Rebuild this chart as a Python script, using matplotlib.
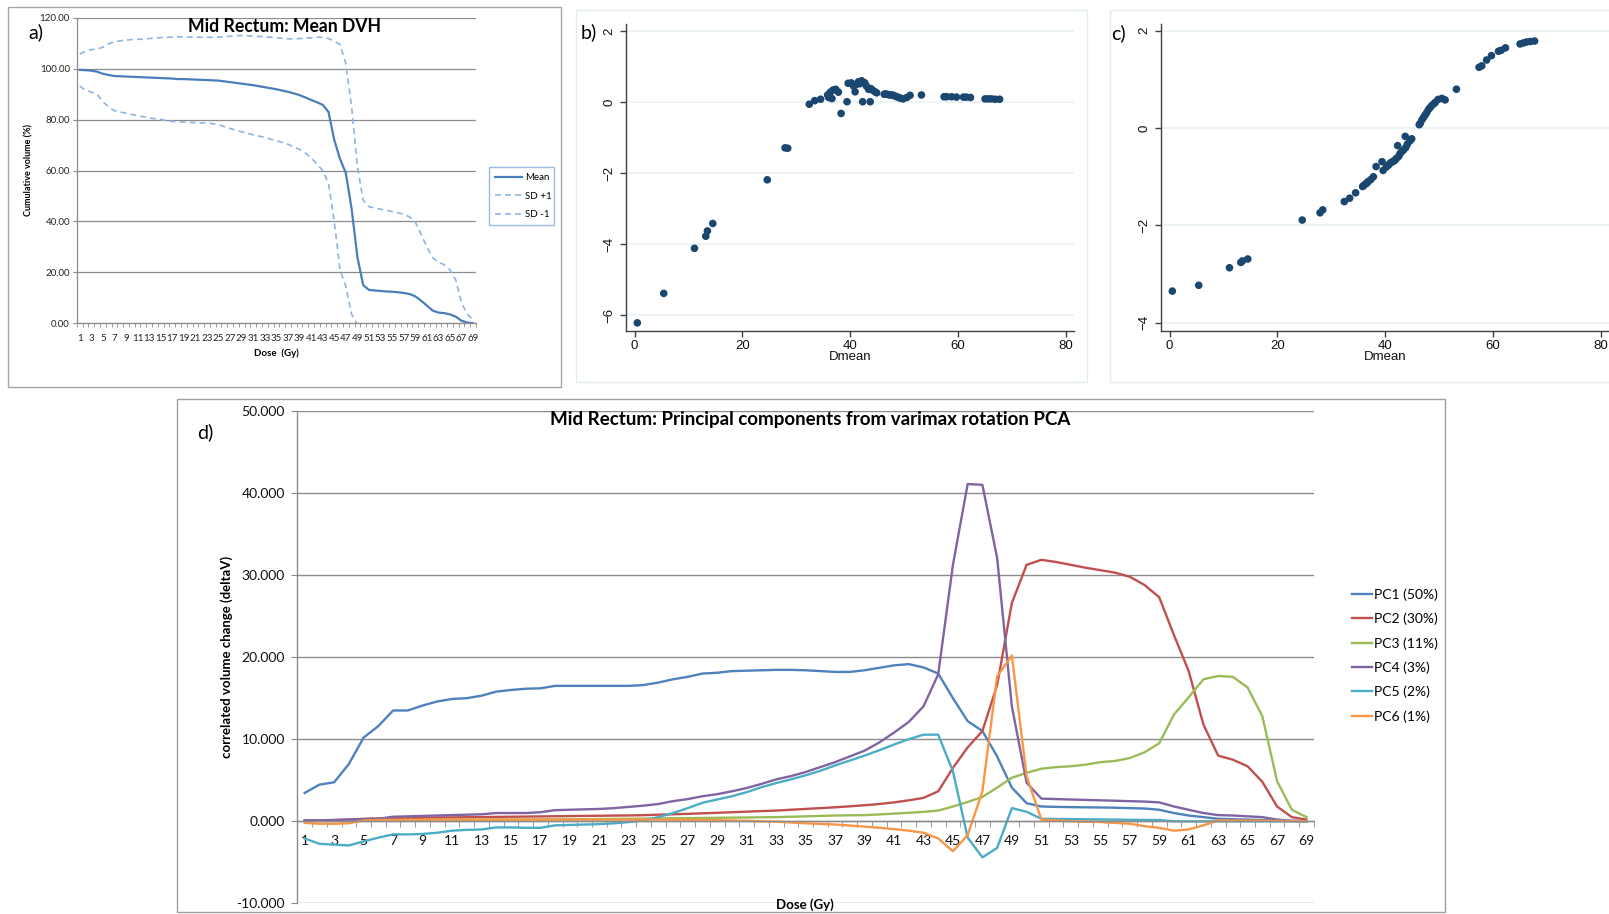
import matplotlib
matplotlib.use("Agg")
import matplotlib.pyplot as plt
import numpy as np
from matplotlib.patches import Rectangle

# ---------------------------------------------------------------- data
dose = list(range(1, 70))

dvh_mean = [99.5, 99.4, 99.2, 98.8, 98.0, 97.5, 97.1, 97.0, 96.9, 96.8,
            96.7, 96.6, 96.5, 96.4, 96.3, 96.2, 96.1, 95.9, 95.9, 95.8,
            95.7, 95.6, 95.5, 95.4, 95.3, 95.0, 94.7, 94.4, 94.1, 93.8,
            93.5, 93.1, 92.7, 92.3, 91.9, 91.4, 90.9, 90.3, 89.6, 88.7,
            87.7, 86.8, 85.8, 83.0, 72.0, 64.5, 59.0, 45.0, 26.0, 15.0,
            13.1, 12.9, 12.7, 12.5, 12.4, 12.2, 11.9, 11.5, 10.6, 8.9,
            7.0, 5.0, 4.2, 4.0, 3.5, 2.6, 1.0, 0.3, 0.0]
dvh_sd_plus = [105.7, 106.8, 107.5, 107.6, 108.4, 109.7, 110.6, 110.9, 111.2, 111.4,
               111.5, 111.6, 111.8, 112.0, 112.2, 112.3, 112.4, 112.5, 112.5, 112.4,
               112.4, 112.3, 112.3, 112.3, 112.4, 112.6, 112.7, 112.9, 113.0, 112.9,
               112.8, 112.6, 112.5, 112.3, 112.1, 111.9, 111.7, 111.7, 111.8, 112.0,
               112.1, 112.3, 112.3, 111.8, 110.8, 109.5, 102.0, 85.0, 61.5, 48.4,
               45.8, 45.3, 44.8, 44.3, 43.9, 43.4, 42.8, 41.8, 39.8, 35.0,
               30.0, 25.8, 24.0, 23.0, 21.0, 17.0, 8.0, 3.6, 1.2]
dvh_sd_minus = [93.2, 91.5, 90.8, 90.0, 87.0, 85.0, 83.5, 83.0, 82.5, 82.0,
                81.5, 81.1, 80.7, 80.3, 80.0, 79.6, 79.3, 79.1, 79.0, 78.9,
                78.8, 78.7, 78.7, 78.4, 78.0, 77.2, 76.5, 75.8, 75.2, 74.6,
                74.0, 73.5, 73.0, 72.3, 71.7, 71.0, 70.3, 69.3, 68.3, 66.8,
                65.0, 62.5, 60.0, 55.0, 40.0, 21.0, 14.5, 3.5, -0.5, np.nan,
                np.nan, np.nan, np.nan, np.nan, np.nan, np.nan, np.nan, np.nan, np.nan, np.nan,
                np.nan, np.nan, np.nan, np.nan, np.nan, np.nan, np.nan, np.nan, np.nan]

# per-patient mean dose and the two component scores
dmean = [0.5, 5.4, 11.1, 13.2, 13.5, 14.5, 24.6, 27.9, 28.4, 32.4,
         33.4, 34.5, 35.8, 36.0, 36.3, 36.6, 36.8, 37.3, 37.8, 38.3,
         39.4, 39.6, 40.2, 40.6, 40.9, 41.2, 41.5, 41.8, 42.1, 42.3,
         42.5, 42.7, 43.0, 43.4, 43.7, 43.8, 44.1, 44.6, 44.9, 46.3,
         46.5, 46.8, 47.1, 47.4, 47.7, 48.0, 48.3, 48.6, 49.0, 49.3,
         49.8, 50.5, 51.1, 53.2, 57.4, 57.9, 58.8, 59.7, 61.0, 61.5,
         62.3, 65.0, 65.6, 66.2, 66.9, 67.7]
score_b = [-6.22, -5.39, -4.12, -3.78, -3.63, -3.42, -2.19, -1.29, -1.30, -0.06,
           0.04, 0.08, 0.20, 0.13, 0.28, 0.10, 0.34, 0.36, 0.28, -0.32,
           0.01, 0.53, 0.54, 0.45, 0.29, 0.50, 0.57, 0.52, 0.60, 0.01,
           0.55, 0.54, 0.45, 0.36, 0.01, 0.38, 0.34, 0.29, 0.26, 0.22,
           0.23, 0.22, 0.21, 0.20, 0.20, 0.19, 0.17, 0.15, 0.13, 0.11,
           0.09, 0.13, 0.19, 0.20, 0.15, 0.15, 0.15, 0.14, 0.14, 0.14,
           0.13, 0.09, 0.09, 0.09, 0.08, 0.08]
score_c = [-3.35, -3.23, -2.87, -2.76, -2.73, -2.69, -1.89, -1.74, -1.68, -1.51,
           -1.44, -1.33, -1.20, -1.18, -1.15, -1.13, -1.10, -1.06, -1.00, -0.79,
           -0.69, -0.87, -0.80, -0.76, -0.72, -0.70, -0.68, -0.66, -0.62, -0.36,
           -0.58, -0.53, -0.49, -0.45, -0.17, -0.40, -0.33, -0.26, -0.22, 0.07,
           0.10, 0.17, 0.22, 0.27, 0.32, 0.38, 0.42, 0.46, 0.50, 0.53,
           0.59, 0.61, 0.58, 0.80, 1.25, 1.28, 1.40, 1.49, 1.58, 1.60,
           1.65, 1.73, 1.75, 1.77, 1.78, 1.79]

pc_labels = ["PC1 (50%)", "PC2 (30%)", "PC3 (11%)", "PC4 (3%)", "PC5 (2%)", "PC6 (1%)"]
pc1 = [3.45, 4.46, 4.75, 6.98, 10.2, 11.6, 13.5, 13.5, 14.1, 14.6,
       14.9, 15.0, 15.3, 15.8, 16.0, 16.15, 16.2, 16.5, 16.5, 16.5,
       16.5, 16.5, 16.5, 16.6, 16.9, 17.3, 17.6, 18.0, 18.1, 18.3,
       18.35, 18.4, 18.45, 18.45, 18.4, 18.3, 18.2, 18.2, 18.4, 18.7,
       19.0, 19.15, 18.75, 18.0, 15.0, 12.2, 11.0, 7.9, 4.1, 2.2,
       1.8, 1.75, 1.72, 1.7, 1.68, 1.65, 1.6, 1.55, 1.4, 1.0,
       0.7, 0.5, 0.3, 0.25, 0.2, 0.15, 0.1, 0.05, 0.0]
pc2 = [0.1, 0.12, 0.15, 0.2, 0.3, 0.33, 0.36, 0.4, 0.42, 0.45,
       0.47, 0.49, 0.51, 0.53, 0.55, 0.57, 0.59, 0.61, 0.63, 0.65,
       0.67, 0.69, 0.71, 0.74, 0.8, 0.85, 0.9, 0.97, 1.03, 1.1,
       1.17, 1.24, 1.3, 1.4, 1.5, 1.6, 1.7, 1.82, 1.95, 2.1,
       2.3, 2.55, 2.85, 3.65, 6.5, 9.0, 11.0, 16.6, 26.6, 31.25,
       31.86, 31.6, 31.25, 30.9, 30.6, 30.3, 29.8, 28.8, 27.3, 22.7,
       18.3, 11.8, 8.0, 7.5, 6.7, 4.8, 1.8, 0.5, 0.2]
pc3 = [0.05, 0.06, 0.07, 0.08, 0.1, 0.11, 0.12, 0.13, 0.14, 0.15,
       0.16, 0.17, 0.18, 0.19, 0.2, 0.21, 0.22, 0.23, 0.24, 0.25,
       0.27, 0.28, 0.3, 0.32, 0.34, 0.36, 0.38, 0.4, 0.42, 0.44,
       0.46, 0.48, 0.5, 0.55, 0.6, 0.65, 0.7, 0.72, 0.75, 0.83,
       0.93, 1.03, 1.14, 1.3, 1.8, 2.35, 2.96, 4.1, 5.3, 5.9,
       6.4, 6.6, 6.7, 6.9, 7.2, 7.35, 7.7, 8.4, 9.5, 13.0,
       15.1, 17.3, 17.7, 17.6, 16.3, 12.8, 4.9, 1.4, 0.5]
pc4 = [0.1, 0.1, 0.15, 0.2, 0.25, 0.3, 0.55, 0.6, 0.65, 0.7,
       0.75, 0.8, 0.85, 1.0, 1.0, 1.0, 1.1, 1.35, 1.4, 1.45,
       1.5, 1.6, 1.75, 1.9, 2.1, 2.45, 2.7, 3.05, 3.3, 3.65,
       4.05, 4.55, 5.1, 5.5, 6.0, 6.6, 7.2, 7.9, 8.6, 9.6,
       10.8, 12.1, 14.0, 17.9, 31.25, 41.1, 41.0, 32.1, 14.0, 4.7,
       2.76, 2.7, 2.65, 2.6, 2.55, 2.5, 2.45, 2.4, 2.3, 1.8,
       1.4, 1.0, 0.75, 0.7, 0.6, 0.5, 0.2, 0.05, 0.0]
pc5 = [-2.1, -2.75, -2.85, -2.95, -2.45, -2.0, -1.6, -1.6, -1.55, -1.4,
       -1.15, -1.05, -1.0, -0.75, -0.75, -0.8, -0.8, -0.5, -0.45, -0.4,
       -0.35, -0.25, -0.1, 0.1, 0.5, 1.0, 1.6, 2.25, 2.65, 3.05,
       3.55, 4.15, 4.65, 5.1, 5.6, 6.15, 6.8, 7.4, 8.0, 8.65,
       9.35, 10.0, 10.55, 10.55, 6.1, -2.0, -4.4, -3.25, 1.6, 1.15,
       0.3, 0.28, 0.26, 0.24, 0.22, 0.2, 0.18, 0.16, 0.15, 0.0,
       -0.02, -0.02, 0.0, 0.0, 0.0, 0.0, 0.0, 0.0, 0.0]
pc6 = [-0.2, -0.3, -0.3, -0.25, 0.1, 0.15, 0.18, 0.2, 0.2, 0.2,
       0.2, 0.2, 0.2, 0.2, 0.2, 0.2, 0.2, 0.2, 0.2, 0.2,
       0.2, 0.2, 0.2, 0.2, 0.2, 0.18, 0.16, 0.15, 0.12, 0.1,
       0.05, 0.0, -0.05, -0.15, -0.25, -0.32, -0.4, -0.52, -0.65, -0.8,
       -0.95, -1.15, -1.4, -2.1, -3.65, -1.7, 3.65, 17.65, 20.2, 5.5,
       0.2, 0.1, 0.0, -0.05, -0.1, -0.2, -0.3, -0.6, -0.8, -1.15,
       -1.0, -0.5, 0.1, 0.1, 0.08, 0.06, 0.04, 0.02, 0.0]
pc_series = [pc1, pc2, pc3, pc4, pc5, pc6]
pc_colors = ["#4f81bd", "#c0504d", "#9bbb59", "#8064a2", "#4bacc6", "#f79646"]

dose_labels = [str(d) if d % 2 == 1 else "" for d in dose]

# ---------------------------------------------------------------- layout helpers
W, H = 1609, 914
fig = plt.figure(figsize=(W / 100, H / 100), dpi=100)
fig.patch.set_facecolor("white")

XL = ["Lato", "DejaVu Sans"]              # spreadsheet-style panels
ST = ["Liberation Sans", "DejaVu Sans"]   # statistics-package panels


def rect(x0, y0, x1, y1):
    """pixel box (origin top-left) -> figure-fraction rectangle"""
    return [x0 / W, 1 - y1 / H, (x1 - x0) / W, (y1 - y0) / H]


def ftext(x, y, s, **kw):
    fig.text(x / W, 1 - y / H, s, **kw)


def frame(x0, y0, x1, y1, color, lw=1.0):
    fig.add_artist(Rectangle((x0 / W, 1 - y1 / H), (x1 - x0) / W, (y1 - y0) / H,
                             transform=fig.transFigure, fill=False,
                             edgecolor=color, linewidth=lw))


GRID = "#8c8c8c"

# ---------------------------------------------------------------- a) mean DVH
frame(8, 7, 561, 387, "#a6a6a6", 1.0)
ax_a = fig.add_axes(rect(76.8, 17.7, 476, 323.3))
ax_a.plot(dose, dvh_mean, color="#4a7ebb", lw=1.6, label="Mean")
ax_a.plot(dose, dvh_sd_plus, color="#8db4e2", lw=1.2, ls=(0, (3.5, 2.5)), label="SD +1")
ax_a.plot(dose, dvh_sd_minus, color="#8db4e2", lw=1.2, ls=(0, (3.5, 2.5)), label="SD -1")
ax_a.set_xlim(0.5, 69.5)
ax_a.set_ylim(0, 120)
ax_a.set_yticks(np.arange(0, 121, 20))
ax_a.set_yticklabels([f"{v:.2f}" for v in np.arange(0, 121, 20)])
ax_a.set_xticks(dose)
ax_a.set_xticklabels(dose_labels)
ax_a.set_xticks(np.arange(0.5, 70, 1), minor=True)
ax_a.tick_params(axis="x", which="major", length=0, pad=8, labelsize=7, labelcolor="#222222")
ax_a.tick_params(axis="x", which="minor", length=3, color=GRID, direction="out")
ax_a.tick_params(axis="y", length=3, color=GRID, pad=2, labelsize=7, labelcolor="#222222")
for lab in ax_a.get_xticklabels() + ax_a.get_yticklabels():
    lab.set_family(XL)
ax_a.yaxis.grid(True, color=GRID, lw=0.9)
ax_a.set_axisbelow(True)
for s in ("top", "right"):
    ax_a.spines[s].set_visible(False)
for s in ("left", "bottom"):
    ax_a.spines[s].set_color(GRID)
    ax_a.spines[s].set_linewidth(0.9)
ftext(284, 26, "Mid Rectum: Mean DVH", fontsize=12.7, fontweight="bold", family=XL,
      ha="center", va="center")
ftext(28.6, 170, "Cumulative volume (%)", fontsize=6.5, fontweight="bold", family=XL,
      ha="center", va="center", rotation=90)
ftext(276, 353, "Dose  (Gy)", fontsize=7, fontweight="bold", family=XL,
      ha="center", va="center")
frame(489, 167, 554, 225, "#9dbbe0", 1.0)
fig.legend(handles=ax_a.get_lines(), loc="center left",
           bbox_to_anchor=(494.6 / W, 1 - 196 / H), frameon=False,
           prop={"family": XL, "size": 7}, handlelength=2.8,
           handletextpad=0.3, labelspacing=0.98, borderpad=0, borderaxespad=0)
ftext(35.7, 32, "a)", fontsize=14, family=XL, ha="center", va="center")

# ---------------------------------------------------------------- b), c) scatter panels
NAVY = "#1a476f"
frame(576, 10, 1087, 382, "#e1ecf0", 1.0)
frame(1110, 10, 1640, 382, "#e1ecf0", 1.0)


def stata_axes(box, y, ylim, yticks):
    ax = fig.add_axes(rect(*box))
    ax.scatter(dmean, y, s=30, color=NAVY, edgecolors="none", zorder=3, clip_on=False)
    ax.set_xlim(-1.6, 81.5)
    ax.set_ylim(*ylim)
    ax.set_xticks([0, 20, 40, 60, 80])
    ax.set_yticks(yticks)
    ax.yaxis.grid(True, color="#eaf2f3", lw=1.2)
    ax.set_axisbelow(True)
    for s in ("top", "right"):
        ax.spines[s].set_visible(False)
    for s in ("left", "bottom"):
        ax.spines[s].set_color("#404040")
        ax.spines[s].set_linewidth(1.0)
    ax.tick_params(length=4.5, color="#404040", width=1.0, labelsize=9.5, labelcolor="#111111")
    ax.tick_params(axis="x", pad=2)
    ax.tick_params(axis="y", pad=3)
    for lab in ax.get_yticklabels():
        lab.set_rotation(90)
        lab.set_va("center")
    for lab in ax.get_xticklabels() + ax.get_yticklabels():
        lab.set_family(ST)
    ax.set_xlabel("Dmean", family=ST, fontsize=9.5, labelpad=-1, color="#111111")
    return ax


ax_b = stata_axes((626, 24, 1074, 331), score_b, (-6.45, 2.2), [-6, -4, -2, 0, 2])
ax_c = stata_axes((1161, 24, 1609, 331), score_c, (-4.17, 2.14), [-4, -2, 0, 2])
ftext(589, 32, "b)", fontsize=14, family=XL, ha="center", va="center")
ftext(1118.6, 33, "c)", fontsize=14, family=XL, ha="center", va="center")

# ---------------------------------------------------------------- d) principal components
frame(177, 399, 1445, 912, "#a0a0a0", 1.0)
ax_d = fig.add_axes(rect(297.3, 411, 1313.9, 903.3))
for vals, lab, col in zip(pc_series, pc_labels, pc_colors):
    ax_d.plot(dose, vals, color=col, lw=1.7, label=lab)
ax_d.set_xlim(0.5, 69.5)
ax_d.set_ylim(-10, 50)
ax_d.set_yticks(np.arange(-10, 51, 10))
ax_d.set_yticklabels([f"{v:.3f}" for v in np.arange(-10, 51, 10)])
ax_d.set_xticks(dose)
ax_d.set_xticklabels(dose_labels)
ax_d.set_xticks(np.arange(0.5, 70, 1), minor=True)
ax_d.spines["bottom"].set_position(("data", 0))
for s in ("top", "right"):
    ax_d.spines[s].set_visible(False)
for s in ("left", "bottom"):
    ax_d.spines[s].set_color(GRID)
    ax_d.spines[s].set_linewidth(1.0)
ax_d.yaxis.grid(True, color=GRID, lw=1.0)
ax_d.set_axisbelow(True)
ax_d.tick_params(axis="x", which="major", length=0, pad=10, labelsize=10, labelcolor="#111111")
ax_d.tick_params(axis="x", which="minor", length=4, color=GRID, direction="out")
ax_d.tick_params(axis="y", length=4, color=GRID, pad=5, labelsize=10, labelcolor="#111111")
for lab in ax_d.get_xticklabels() + ax_d.get_yticklabels():
    lab.set_family(XL)
ftext(810, 420, "Mid Rectum: Principal components from varimax rotation PCA",
      fontsize=13.5, fontweight="bold", family=XL, ha="center", va="center")
ftext(227, 657, "correlated volume change (deltaV)", fontsize=9.5, fontweight="bold",
      family=XL, ha="center", va="center", rotation=90)
ftext(805, 905, "Dose (Gy)", fontsize=9.5, fontweight="bold", family=XL,
      ha="center", va="center")
ftext(205, 432, "d)", fontsize=14, family=XL, ha="center", va="center")
fig.legend(handles=ax_d.get_lines(), loc="center left",
           bbox_to_anchor=(1351.7 / W, 1 - 655.5 / H), frameon=False,
           prop={"family": XL, "size": 10}, handlelength=1.45,
           handletextpad=0.15, labelspacing=0.85, borderpad=0, borderaxespad=0)

fig.savefig("out.png", dpi=100, facecolor="white")
